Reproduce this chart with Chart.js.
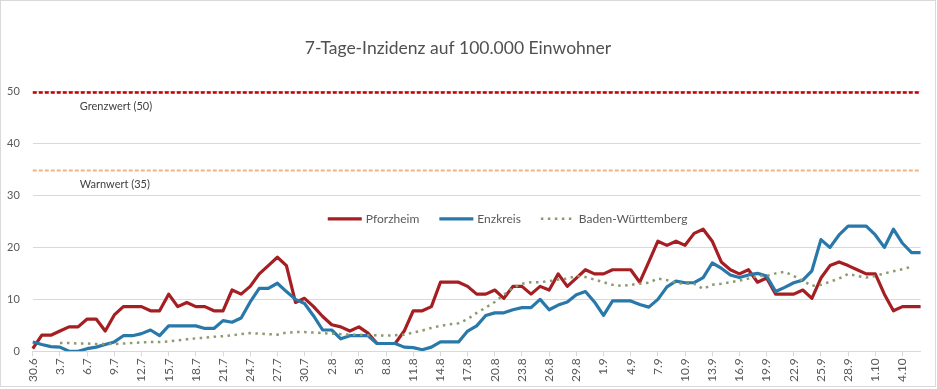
<!DOCTYPE html>
<html>
<head>
<meta charset="utf-8">
<script src="https://cdn.jsdelivr.net/npm/chart.js@4.4.0/dist/chart.umd.min.js"></script>
<style>
  html, body { margin: 0; padding: 0; background: #fff; }
  #wrap { width: 937px; height: 389px; position: relative; }
</style>
</head>
<body>
<div id="wrap"><canvas id="inzidenz-chart"></canvas></div>
<script>
const dates = [
  '30.6',
  '1.7', '2.7', '3.7', '4.7', '5.7', '6.7', '7.7', '8.7', '9.7', '10.7',
  '11.7', '12.7', '13.7', '14.7', '15.7', '16.7', '17.7', '18.7', '19.7', '20.7',
  '21.7', '22.7', '23.7', '24.7', '25.7', '26.7', '27.7', '28.7', '29.7', '30.7', '31.7',
  '1.8', '2.8', '3.8', '4.8', '5.8', '6.8', '7.8', '8.8', '9.8', '10.8',
  '11.8', '12.8', '13.8', '14.8', '15.8', '16.8', '17.8', '18.8', '19.8', '20.8',
  '21.8', '22.8', '23.8', '24.8', '25.8', '26.8', '27.8', '28.8', '29.8', '30.8', '31.8',
  '1.9', '2.9', '3.9', '4.9', '5.9', '6.9', '7.9', '8.9', '9.9', '10.9',
  '11.9', '12.9', '13.9', '14.9', '15.9', '16.9', '17.9', '18.9', '19.9', '20.9',
  '21.9', '22.9', '23.9', '24.9', '25.9', '26.9', '27.9', '28.9', '29.9', '30.9',
  '1.10', '2.10', '3.10', '4.10', '5.10', '6.10'
]

const pforzheim = [
  0.5, 3.1, 3.1, 3.9, 4.7, 4.7, 6.2, 6.2, 3.9, 7.0,
  8.6, 8.6, 8.6, 7.8, 7.8, 11.0, 8.6, 9.4, 8.6, 8.6,
  7.8, 7.8, 11.8, 11.0, 12.5, 14.9, 16.5, 18.1, 16.5, 9.4,
  10.2, 8.6, 6.7, 5.1, 4.7, 3.9, 4.7, 3.5, 1.5, 1.5,
  1.5, 3.9, 7.8, 7.8, 8.6, 13.3, 13.3, 13.3, 12.5, 11.0,
  11.0, 11.8, 10.2, 12.5, 12.5, 11.0, 12.5, 11.8, 14.9, 12.5,
  14.1, 15.7, 14.9, 14.9, 15.7, 15.7, 15.7, 13.3, 17.2, 21.2,
  20.4, 21.2, 20.4, 22.7, 23.5, 21.2, 17.2, 15.7, 14.9, 15.7,
  13.3, 14.1, 11.0, 11.0, 11.0, 11.8, 10.2, 14.1, 16.5, 17.2,
  16.5, 15.7, 14.9, 14.9, 11.0, 7.8, 8.6, 8.6, 8.6
]

const enzkreis = [
  1.8, 1.3, 0.9, 0.8, 0.0, 0.0, 0.5, 0.8, 1.3, 1.8,
  3.0, 3.0, 3.4, 4.1, 3.0, 4.9, 4.9, 4.9, 4.9, 4.4,
  4.4, 5.9, 5.6, 6.4, 9.5, 12.1, 12.1, 13.1, 11.5, 10.0,
  9.2, 6.8, 4.1, 4.1, 2.4, 3.0, 3.0, 3.0, 1.5, 1.5,
  1.5, 0.8, 0.7, 0.3, 0.8, 1.8, 1.8, 1.8, 3.9, 4.9,
  6.9, 7.4, 7.4, 8.0, 8.4, 8.4, 10.0, 8.0, 8.9, 9.5,
  10.9, 11.5, 9.5, 6.9, 9.7, 9.7, 9.7, 9.0, 8.5, 10.0,
  12.4, 13.5, 13.2, 13.2, 14.2, 17.0, 16.0, 14.7, 14.2, 14.7,
  15.0, 14.5, 11.5, 12.3, 13.2, 13.7, 15.5, 21.5, 20.0, 22.4,
  24.1, 24.1, 24.1, 22.4, 20.0, 23.5, 20.8, 19.0, 19.0
]

const badenWuerttemberg = [
  null, null, null, 1.6, 1.6, 1.5, 1.5, 1.4, 1.4, 1.4,
  1.5, 1.6, 1.7, 1.8, 1.8, 1.9, 2.1, 2.3, 2.5, 2.6,
  2.8, 2.9, 3.1, 3.3, 3.5, 3.4, 3.3, 3.2, 3.6, 3.7,
  3.7, 3.6, 3.5, 3.4, 3.3, 3.2, 3.2, 3.1, 3.1, 3.0,
  3.1, 3.2, 3.6, 4.0, 4.5, 4.9, 5.2, 5.4, 6.2, 7.4,
  8.4, 9.5, 10.9, 12.2, 13.0, 13.3, 13.3, 13.5, 13.8, 14.0,
  14.5, 14.3, 13.8, 13.3, 12.8, 12.6, 12.8, 13.0, 13.2, 14.0,
  13.7, 13.2, 13.0, 13.0, 12.0, 12.8, 13.0, 13.3, 13.6, 14.0,
  14.5, 14.5, 15.0, 15.3, 14.5, 13.6, 12.6, 12.8, 13.4, 14.0,
  14.9, 14.5, 14.2, 14.5, 15.0, 15.4, 15.8, 16.3, null
]

const yMax = 50
const yStep = 10
const grenzwert = 50
const warnwert = 35

const FONT = 'Lato, "Open Sans", sans-serif'
const TEXT = '#595959'
const GRID = '#d9d9d9'
const RED = '#a51e22'
const BLUE = '#2878aa'
const GREEN = '#8c9a6e'

// Grenzwert/Warnwert lines with their captions
const thresholdPlugin = {
  id: 'thresholds',
  beforeDatasetsDraw(chart) {
    const { ctx, chartArea: area, scales: { y } } = chart
    const lines = [
      { value: grenzwert, color: '#c00000', width: 2.5, text: 'Grenzwert (50)' },
      { value: warnwert, color: '#f4b183', width: 2, text: 'Warnwert (35)' },
    ]
    ctx.save()
    lines.forEach((l) => {
      const py = Math.round(y.getPixelForValue(l.value)) + 0.5
      ctx.strokeStyle = l.color
      ctx.lineWidth = l.width
      ctx.setLineDash([4, 2])
      ctx.beginPath()
      ctx.moveTo(area.left, py)
      ctx.lineTo(area.right, py)
      ctx.stroke()
      ctx.setLineDash([])
      ctx.fillStyle = '#404040'
      ctx.font = '11px ' + FONT
      ctx.textBaseline = 'middle'
      ctx.fillText(l.text, area.left + 47, py + 14)
    })
    ctx.restore()
  },
}

// legend sits inside the plot, like in the Excel original
const legendPlugin = {
  id: 'innerLegend',
  afterDatasetsDraw(chart) {
    const { ctx, chartArea: area, scales: { y } } = chart
    const py = y.getPixelForValue(25.5)
    let x = area.left + 295
    ctx.save()
    ctx.font = '12px ' + FONT
    ctx.textBaseline = 'middle'
    chart.data.datasets.forEach((ds) => {
      ctx.strokeStyle = ds.borderColor
      ctx.lineWidth = ds.borderWidth
      ctx.setLineDash(ds.borderDash || [])
      ctx.beginPath()
      ctx.moveTo(x, py)
      ctx.lineTo(x + 34, py)
      ctx.stroke()
      ctx.setLineDash([])
      ctx.fillStyle = TEXT
      ctx.fillText(ds.label, x + 38, py)
      x += 38 + ctx.measureText(ds.label).width + 20
    })
    ctx.restore()
  },
}

const framePlugin = {
  id: 'frame',
  afterDraw(chart) {
    const { ctx } = chart
    ctx.save()
    ctx.strokeStyle = GRID
    ctx.lineWidth = 1
    ctx.strokeRect(0.5, 0.5, 935, 386)
    ctx.restore()
  },
}

const ctx = document.getElementById('inzidenz-chart').getContext('2d')

new Chart(ctx, {
  type: 'line',
  data: {
    labels: dates,
    datasets: [
      {
        label: 'Pforzheim',
        data: pforzheim,
        borderColor: RED,
        borderWidth: 3.2,
        order: 3,
      },
      {
        label: 'Enzkreis',
        data: enzkreis,
        borderColor: BLUE,
        borderWidth: 3.2,
        order: 2,
      },
      {
        label: 'Baden-Württemberg',
        data: badenWuerttemberg,
        borderColor: GREEN,
        borderWidth: 2.5,
        borderDash: [2.5, 4.5],
        order: 1,
      },
    ],
  },
  options: {
    responsive: true,
    maintainAspectRatio: false,
    animation: false,
    elements: {
      point: { radius: 0, hoverRadius: 0 },
      line: { tension: 0, fill: false, borderJoinStyle: 'round' },
    },
    layout: { padding: { left: -6, right: 15, top: 0, bottom: 5 } },
    scales: {
      x: {
        grid: {
          drawOnChartArea: false,
          tickLength: 5,
          color: (c) => (c.index % 3 === 0 ? GRID : 'rgba(0,0,0,0)'),
        },
        border: { display: true, color: GRID },
        ticks: {
          autoSkip: false,
          minRotation: 90,
          maxRotation: 90,
          padding: 2,
          color: TEXT,
          font: { family: FONT, size: 12 },
          callback: (v, i) => (i % 3 === 0 ? dates[i] : ''),
        },
      },
      y: {
        min: 0,
        max: yMax,
        grid: { color: GRID, drawTicks: false },
        border: { display: false },
        ticks: {
          stepSize: yStep,
          padding: 13,
          color: TEXT,
          font: { family: FONT, size: 11 },
        },
      },
    },
    plugins: {
      legend: { display: false },
      tooltip: { enabled: false },
      title: {
        display: true,
        text: '7-Tage-Inzidenz auf 100.000 Einwohner',
        color: '#505050',
        font: { family: FONT, size: 17.5, weight: 'normal' },
        padding: { top: 38, bottom: 32.6 },
      },
    },
  },
  plugins: [thresholdPlugin, legendPlugin, framePlugin],
})
</script>
</body>
</html>
